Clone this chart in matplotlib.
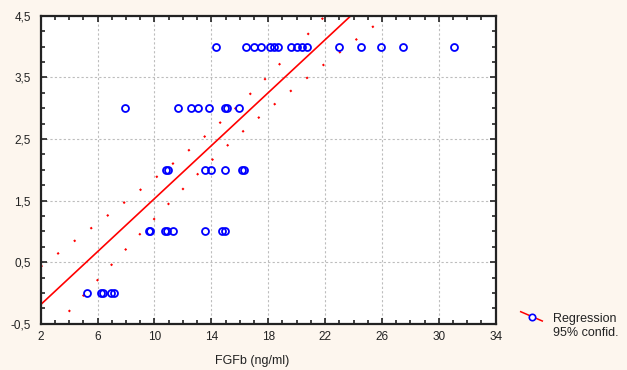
import numpy as np
import matplotlib.pyplot as plt
from matplotlib.lines import Line2D
from matplotlib.ticker import MultipleLocator, FuncFormatter

# FGFb (ng/ml) per score level
fgfb_4 = [14.31, 16.44, 16.99, 17.47, 18.13, 18.41, 18.69, 19.60, 20.05,
          20.38, 20.72, 23.0, 24.52, 25.93, 27.51, 31.06]
fgfb_3 = [7.93, 11.68, 12.57, 13.06, 13.81, 14.94, 15.08, 15.95]
fgfb_2 = [10.78, 10.93, 13.55, 14.0, 14.94, 16.16, 16.30]
fgfb_1 = [9.62, 9.71, 10.72, 10.88, 11.32, 13.55, 14.78, 14.99]
fgfb_0 = [5.28, 6.22, 6.41, 6.97, 7.14]
levels = [4, 3, 2, 1, 0]

# regression line and 95% confidence band
fit_intercept = -0.62
fit_slope = 0.215
band_center = 15.0
band_min = 0.24
band_scale = 5.5

x_ticks = [2, 6, 10, 14, 18, 22, 26, 30, 34]
y_ticks = [-0.5, 0.5, 1.5, 2.5, 3.5, 4.5]

bg = '#fdf6ee'
plt.rcParams['font.family'] = ['Liberation Sans', 'DejaVu Sans']

fig = plt.figure(figsize=(6.27, 3.70), dpi=100, facecolor=bg)
ax = fig.add_axes([0.0649, 0.1251, 0.7257, 0.8324])
ax.set_facecolor('white')

xs = []
ys = []
for lv, vals in zip(levels, [fgfb_4, fgfb_3, fgfb_2, fgfb_1, fgfb_0]):
    xs += vals
    ys += [lv] * len(vals)

ax.plot(xs, ys, linestyle='none', marker='o', markersize=5, markerfacecolor='none',
        markeredgecolor='#0000ff', markeredgewidth=1.3, zorder=3)

xl = np.linspace(2, 34, 200)
yl = fit_intercept + fit_slope * xl
half = band_min * np.sqrt(1 + ((xl - band_center) / band_scale) ** 2)
ax.plot(xl, yl, color='#ff0000', linewidth=1.2, zorder=2)
ax.plot(xl, yl + half, color='#ff0000', linewidth=1.5, linestyle=(0, (1, 9)), zorder=2)
ax.plot(xl, yl - half, color='#ff0000', linewidth=1.5, linestyle=(0, (1, 9)), zorder=2)

ax.set_xlim(2, 34)
ax.set_ylim(-0.5, 4.5)
ax.set_xticks(x_ticks)
ax.set_yticks(y_ticks)
ax.xaxis.set_minor_locator(MultipleLocator(1))
ax.yaxis.set_minor_locator(MultipleLocator(0.25))
ax.yaxis.set_major_formatter(FuncFormatter(lambda v, p: ('%.1f' % v).replace('.', ',')))
ax.tick_params(which='both', direction='in', top=True, right=True, labelsize=8.5,
               colors='#222222', width=1.2)
ax.tick_params(which='major', length=4)
ax.tick_params(which='minor', length=3)
ax.tick_params(axis='y', pad=7)
ax.tick_params(axis='x', pad=5)
ax.grid(True, which='major', color='#bdbdbd', linestyle=(0, (2, 2)), linewidth=0.8)
for s in ax.spines.values():
    s.set_linewidth(1.6)
    s.set_color('#222222')

ax.set_xlabel('FGFb (ng/ml)', fontsize=9, color='#222222', va='center')
ax.xaxis.set_label_coords((252.5 - 40.7) / 455.0, -0.12)

# legend drawn by hand: slanted red line with blue circle
fig.add_artist(Line2D([520.7 / 627, 542.3 / 627], [1 - 311.7 / 370, 1 - 321 / 370],
                      color='#ff0000', linewidth=1.1, transform=fig.transFigure))
fig.add_artist(Line2D([531.7 / 627], [1 - 317 / 370], marker='o', markersize=4.6,
                      markerfacecolor='white', markeredgecolor='#0000ff',
                      markeredgewidth=1.2, transform=fig.transFigure))
fig.text(553 / 627, 1 - 318.7 / 370, 'Regression', fontsize=9, va='center', color='#222222')
fig.text(553 / 627, 1 - 333.3 / 370, '95% confid.', fontsize=9, va='center', color='#222222')

fig.savefig('out.png', dpi=100, facecolor=bg)
